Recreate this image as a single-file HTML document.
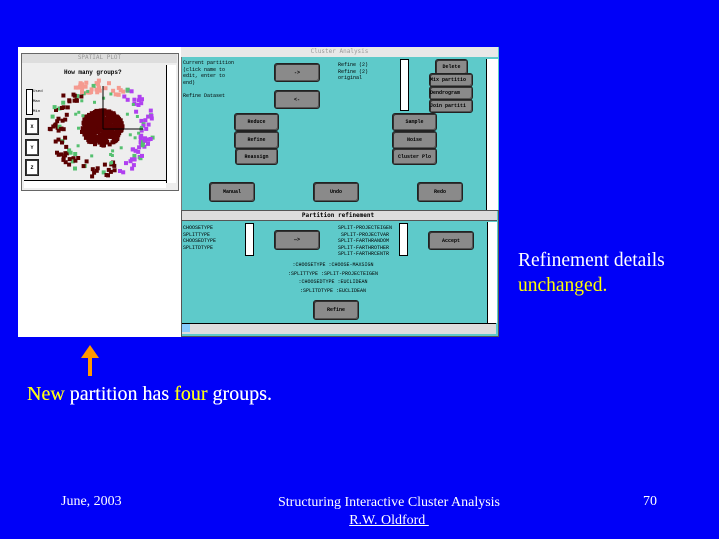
<!DOCTYPE html>
<html><head><meta charset="utf-8"><style>
body{margin:0;width:719px;height:539px;background:#0000f8;position:relative;overflow:hidden;font-family:"Liberation Sans",sans-serif}
.a{position:absolute}
.btn{position:absolute;background:#8a8a8a;border:1px solid #222;border-radius:3px;box-shadow:1px 1px 0 #333 inset,-1px -1px 0 #555 inset;font:bold 5px "Liberation Mono",monospace;color:#000;text-align:center;display:flex;align-items:center;justify-content:center;white-space:nowrap;overflow:hidden}
.mono{font:5px "Liberation Mono",monospace;color:#000;line-height:6.5px;white-space:pre}
.ser{font-family:"Liberation Serif",serif;color:#fff;white-space:nowrap}
.y{color:#ffff00}
</style></head><body>
<div class="a" style="left:18px;top:47px;width:480px;height:290px;background:#fff"></div>
<div class="a" style="left:21px;top:53px;width:156px;height:136px;background:#eee;border:1px solid #666"></div>
<div class="a" style="left:22px;top:54px;width:155px;height:9px;background:#ddd;font:6px monospace;color:#999;text-align:center">SPATIAL PLOT</div>
<div class="a" style="left:166px;top:65px;width:9px;height:118px;background:#fff;border-left:1px solid #000"></div>
<div class="a" style="left:24px;top:180px;width:142px;height:7px;background:#fff;border-top:1px solid #000"></div>
<div class="a mono" style="left:64px;top:70px;font-weight:bold;font-size:6px">How many groups?</div>
<div class="a" style="left:26px;top:89px;width:5px;height:24px;border:1px solid #000;background:#fff"></div>
<div class="a mono" style="left:33px;top:87px;font-size:4px;line-height:10px">Used
Max
Min</div>
<div class="a btn" style="left:25px;top:118px;width:12px;height:15px;background:#fff;border-radius:0">X</div>
<div class="a btn" style="left:25px;top:139px;width:12px;height:15px;background:#fff;border-radius:0">Y</div>
<div class="a btn" style="left:25px;top:159px;width:12px;height:15px;background:#fff;border-radius:0">Z</div>
<svg class="a" style="left:0;top:0" width="719" height="539" id="sc"></svg>
<div class="a" style="left:181px;top:47px;width:317px;height:163px;background:#5ecaca;border-left:1px solid #777"></div>
<div class="a" style="left:181px;top:47px;width:317px;height:10px;background:#e8e8e8;font:6px monospace;color:#999;text-align:center;line-height:10px">Cluster Analysis</div>
<div class="a" style="left:486px;top:59px;width:11px;height:151px;background:#fff;border-left:1px solid #000"></div>
<div class="a mono" style="left:183px;top:60px">Current partition
(click name to
edit, enter to
end)

Refine Dataset</div>
<div class="a mono" style="left:338px;top:62px">Refine (2)
Refine (2)
original</div>
<div class="a" style="left:400px;top:59px;width:7px;height:50px;background:#fff;border:1px solid #000"></div>
<div class="btn" style="left:274px;top:63px;width:44px;height:17px">-&gt;</div>
<div class="btn" style="left:274px;top:90px;width:44px;height:17px">&lt;-</div>
<div class="btn" style="left:234px;top:113px;width:43px;height:16px">Reduce</div>
<div class="btn" style="left:234px;top:131px;width:43px;height:16px">Refine</div>
<div class="btn" style="left:235px;top:148px;width:41px;height:15px">Reassign</div>
<div class="btn" style="left:392px;top:113px;width:43px;height:16px">Sample</div>
<div class="btn" style="left:392px;top:131px;width:43px;height:16px">Noise</div>
<div class="btn" style="left:392px;top:148px;width:43px;height:15px">Cluster Plo</div>
<div class="btn" style="left:209px;top:182px;width:44px;height:18px">Manual</div>
<div class="btn" style="left:313px;top:182px;width:44px;height:18px">Undo</div>
<div class="btn" style="left:417px;top:182px;width:44px;height:18px">Redo</div>
<div class="btn" style="left:435px;top:59px;width:31px;height:14px">Delete</div>
<div class="btn" style="left:429px;top:73px;width:42px;height:12px;justify-content:flex-start">Mix partitio</div>
<div class="btn" style="left:429px;top:86px;width:42px;height:12px;justify-content:flex-start">Dendrogram</div>
<div class="btn" style="left:429px;top:99px;width:42px;height:12px;justify-content:flex-start">Join partiti</div>
<div class="a" style="left:181px;top:210px;width:316px;height:125px;background:#5ecaca;border:1px solid #555"></div>
<div class="a" style="left:182px;top:211px;width:315px;height:9px;background:#ddd;border-bottom:1px solid #555"></div>
<div class="a" style="left:300px;top:211px;width:76px;height:9px;background:#ddd;font:bold 6px monospace;color:#000;text-align:center;line-height:9px;white-space:nowrap">Partition refinement</div>
<div class="a mono" style="left:183px;top:225px">CHOOSETYPE
SPLITTYPE
CHOOSEDTYPE
SPLITDTYPE</div>
<div class="a" style="left:245px;top:223px;width:7px;height:31px;background:#fff;border:1px solid #000"></div>
<div class="a mono" style="left:338px;top:225px;width:60px;overflow:hidden">SPLIT-PROJECTEIGEN
 SPLIT-PROJECTVAR
SPLIT-FARTHRANDOM
SPLIT-FARTHROTHER
SPLIT-FARTHRCENTR</div>
<div class="a" style="left:399px;top:223px;width:7px;height:31px;background:#fff;border:1px solid #000"></div>
<div class="btn" style="left:274px;top:230px;width:44px;height:18px">—&gt;</div>
<div class="btn" style="left:428px;top:231px;width:44px;height:17px">Accept</div>
<div class="a mono" style="left:233px;top:261px;width:200px;text-align:center;line-height:8.5px">:CHOOSETYPE :CHOOSE-MAXSIGN
:SPLITTYPE :SPLIT-PROJECTEIGEN
:CHOOSEDTYPE :EUCLIDEAN
:SPLITDTYPE :EUCLIDEAN</div>
<div class="btn" style="left:313px;top:300px;width:44px;height:18px">Refine</div>
<div class="a" style="left:487px;top:222px;width:9px;height:101px;background:#fff;border-left:1px solid #000"></div>
<div class="a" style="left:182px;top:323px;width:314px;height:10px;background:#ddd;border-top:1px solid #000"></div>
<div class="a" style="left:182px;top:324px;width:8px;height:8px;background:#8cf"></div>
<div class="a" style="left:88px;top:356px;width:4px;height:20px;background:#ff9900"></div>
<div class="a" style="left:81px;top:345px;width:0;height:0;border-left:9px solid transparent;border-right:9px solid transparent;border-bottom:13px solid #ff9900"></div>
<div class="a ser" style="left:518px;top:248px;font-size:19.5px;line-height:25px">Refinement details<br><span class="y">unchanged.</span></div>
<div class="a ser" style="left:27px;top:383px;font-size:20px">New partition has four groups.</div>
<div class="a ser" style="left:27px;top:383px;font-size:20px"><span class="y">New</span> partition has <span class="y">four</span> groups.</div>
<div class="a ser" style="left:61px;top:494px;font-size:14px">June, 2003</div>
<div class="a ser" style="left:250px;top:494px;width:278px;text-align:center;font-size:14px;line-height:18px">Structuring Interactive Cluster Analysis<br><u>R.W. Oldford&nbsp;</u></div>
<div class="a ser" style="left:643px;top:494px;font-size:14px">70</div>
<script>
var s=document.getElementById('sc'),seed=7;function r(){seed=(seed*16807)%2147483647;return seed/2147483647}
var h='';function d(x,y,c,w){h+='<rect x="'+x.toFixed(1)+'" y="'+y.toFixed(1)+'" width="'+w+'" height="'+w+'" fill="'+c+'"/>'}
for(var i=0;i<380;i++){var a=r()*6.28,q=Math.sqrt(r())*18;d(100+Math.cos(a)*q*1.15,126+Math.sin(a)*q,'#5a0000',4)}
for(var i=0;i<170;i++){var a=r()*6.28,q=36+r()*14,x=100+Math.cos(a)*q*1.05,y=126+Math.sin(a)*q;var c='#5a0000';
if(Math.cos(a)>0.3)c='#b040f0';if(Math.sin(a)<-0.85)c='#f59a90';if(r()<0.15)c='#55c070';d(x,y,c,4)}
for(var i=0;i<25;i++){var a=r()*6.28,q=22+r()*18;d(100+Math.cos(a)*q,126+Math.sin(a)*q,'#55c070',3)}
h+='<line x1="103" y1="86" x2="103" y2="129" stroke="#000"/><line x1="103" y1="129" x2="143" y2="129" stroke="#000"/>';
s.innerHTML=h;
</script>
</body></html>
